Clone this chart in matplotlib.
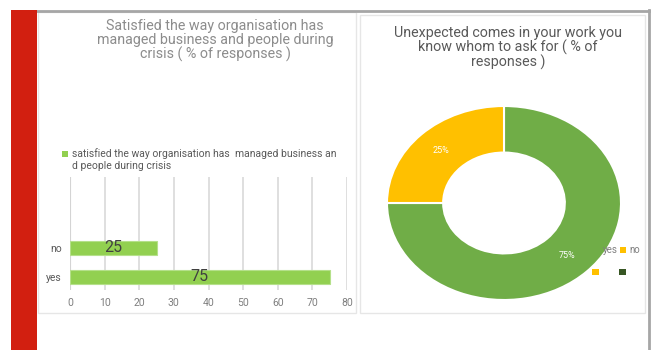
import matplotlib.pyplot as plt
from matplotlib.patches import Rectangle
from matplotlib.lines import Line2D

plt.rcParams['font.family'] = ['Roboto', 'DejaVu Sans']

# bar chart data
bar_categories = ['yes', 'no']
bar_values = [75, 25]
bar_ticks = [0, 10, 20, 30, 40, 50, 60, 70, 80]

# donut data
pie_labels = ['yes', 'no']
pie_values = [75, 25]

W, H = 651, 350
fig = plt.figure(figsize=(W / 100, H / 100), dpi=100)


def px(x, y):
    # pixel coords (from top-left) -> figure fraction
    return x / W, 1 - y / H


def box(x0, y0, x1, y1, z=2, **kw):
    fx, fy = px(x0, y1)
    fig.patches.append(Rectangle((fx, fy), (x1 - x0) / W, (y1 - y0) / H,
                                 transform=fig.transFigure, zorder=z, **kw))


# frame decorations (panels sit behind the axes)
box(11, 10, 37, 352, facecolor='#d21f10', edgecolor='none')
box(38, 12, 356, 313, z=-1, facecolor='white', edgecolor='#e6e6e6', lw=1)
box(360, 15, 645, 313, z=-1, facecolor='white', edgecolor='#e6e6e6', lw=1)
fig.lines.append(Line2D([37 / W, 650 / W], [1 - 10.5 / H] * 2, transform=fig.transFigure,
                        color='#a6a6a6', lw=2))
fig.lines.append(Line2D([648.5 / W] * 2, [1 - 10 / H, 0], transform=fig.transFigure,
                        color='#a6a6a6', lw=2))

# ---- left: horizontal bars ----
ax = fig.add_axes([70 / W, 1 - 290 / H, 277 / W, 113 / H])
ax.set_facecolor('none')
ypos = list(range(len(bar_categories)))
bars = ax.barh(ypos, bar_values, height=0.48, color='#92d050', edgecolor='#b5e08a', lw=0.8, zorder=3)
for b, v in zip(bars, bar_values):
    ax.text(v / 2, b.get_y() + b.get_height() / 2, str(v), ha='center', va='center',
            fontsize=11.5, color='#404040', zorder=4)
ax.set_xlim(0, 80)
ax.set_ylim(-0.45, 3.45)
ax.set_xticks(bar_ticks)
ax.set_xticklabels([str(t) for t in bar_ticks], fontsize=7.5, color='#7f7f7f')
ax.set_yticks(ypos)
ax.set_yticklabels(bar_categories, fontsize=7.5, color='#595959')
ax.tick_params(length=0, pad=6)
ax.xaxis.grid(True, color='#d9d9d9', lw=1.2, zorder=0)
ax.axvline(0, color='#bfbfbf', lw=1.5, zorder=1)
for s in ax.spines.values():
    s.set_visible(False)

fig.text(*px(215, 40.5), 'Satisfied the way organisation has\nmanaged business and people during\ncrisis ( % of responses )',
         ha='center', va='center', fontsize=10.3, color='#8c8c8c', linespacing=0.95)

# legend of the bar chart
box(62, 151, 68, 157, facecolor='#92d050', edgecolor='none')
fig.text(*px(72, 160), 'satisfied the way organisation has  managed business an\nd people during crisis',
         ha='left', va='center', fontsize=7.5, color='#595959', linespacing=1.25)

# ---- right: donut ----
ax2 = fig.add_axes([387 / W, 1 - 300 / H, 234 / W, 194 / H])
wedges, texts, autotexts = ax2.pie(pie_values, startangle=90, counterclock=False,
                                   colors=['#70ad47', '#ffc000'], radius=1,
                                   wedgeprops=dict(width=0.48, edgecolor='white', lw=1.5),
                                   autopct='%d%%', pctdistance=0.76,
                                   textprops=dict(color='white', fontsize=6.5))
ax2.set_aspect('auto')
ax2.set_xlim(-1, 1)
ax2.set_ylim(-1, 1)

fig.text(*px(508, 48), 'Unexpected comes in your work you\nknow whom to ask for ( % of\nresponses )',
         ha='center', va='center', fontsize=10.3, color='#595959', linespacing=0.95)

# broken-looking legend of the donut
fig.text(*px(603, 250), 'yes', ha='left', va='center', fontsize=7, color='#7f7f7f')
box(620, 247, 626, 253, facecolor='#ffc000', edgecolor='none')
fig.text(*px(629, 250), 'no', ha='left', va='center', fontsize=7, color='#7f7f7f')
box(592, 269, 599, 275, facecolor='#ffc000', edgecolor='none')
box(619, 269, 626, 275, facecolor='#375623', edgecolor='none')

fig.savefig('out.png', dpi=100)
